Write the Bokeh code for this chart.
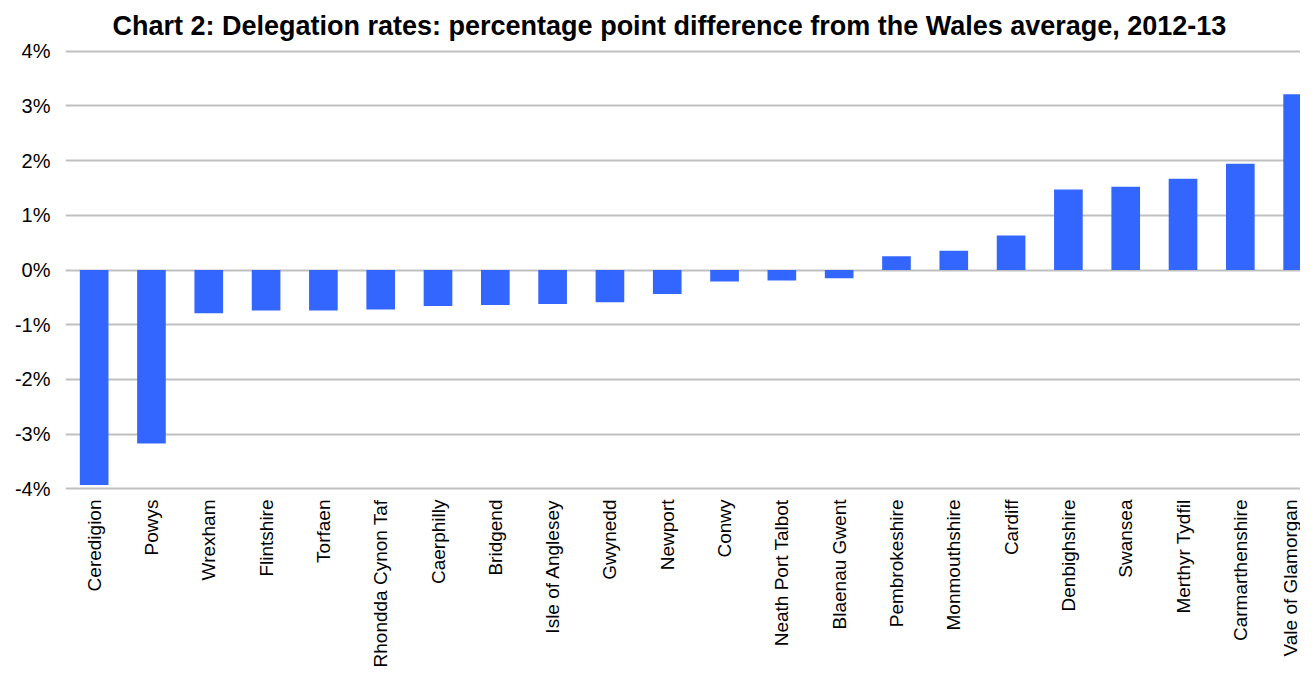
import math
from bokeh.plotting import figure
from bokeh.models import Range1d, FixedTicker, PrintfTickFormatter
from bokeh.embed import file_html
from bokeh.resources import INLINE

title_text = "Chart 2: Delegation rates: percentage point difference from the Wales average, 2012-13"

authorities = [
    "Ceredigion", "Powys", "Wrexham", "Flintshire", "Torfaen", "Rhondda Cynon Taf",
    "Caerphilly", "Bridgend", "Isle of Anglesey", "Gwynedd", "Newport", "Conwy",
    "Neath Port Talbot", "Blaenau Gwent", "Pembrokeshire", "Monmouthshire", "Cardiff",
    "Denbighshire", "Swansea", "Merthyr Tydfil", "Carmarthenshire", "Vale of Glamorgan",
]
difference_pp = [
    -3.93, -3.17, -0.79, -0.74, -0.74, -0.72,
    -0.66, -0.64, -0.62, -0.59, -0.44, -0.21,
    -0.19, -0.15, 0.25, 0.35, 0.63,
    1.47, 1.52, 1.67, 1.94, 3.21,
]
y_ticks = [-4, -3, -2, -1, 0, 1, 2, 3, 4]

FONT = "Liberation Sans"
BAR = "#3366FF"
GRID = "#C0C0C0"

positions = list(range(len(authorities)))

p = figure(
    width=1300, height=670,
    output_backend="svg", toolbar_location=None,
    x_range=Range1d(-0.5, 21.05), y_range=Range1d(-4.03, 4.03),
    min_border_left=65, min_border_right=0, min_border_top=0, min_border_bottom=0,
)

p.title.text = title_text
p.title.text_font = FONT
p.title.text_font_size = "27px"
p.title.text_font_style = "bold"
p.title.text_color = "#000000"
p.title.align = "left"
p.title.offset = 47
p.title.standoff = 17

p.vbar(x=positions, top=difference_pp, bottom=0, width=0.5,
       fill_color=BAR, line_color=None)

p.outline_line_color = None
p.xgrid.grid_line_color = None
p.ygrid.grid_line_color = GRID
p.ygrid.grid_line_width = 2
p.ygrid.level = "underlay"

p.yaxis.ticker = FixedTicker(ticks=y_ticks)
p.yaxis.formatter = PrintfTickFormatter(format="%d%%")
p.yaxis.axis_line_color = None
p.yaxis.major_tick_line_color = None
p.yaxis.minor_tick_line_color = None
p.yaxis.major_label_standoff = 9
p.yaxis.major_label_text_font = FONT
p.yaxis.major_label_text_font_size = "20px"
p.yaxis.major_label_text_color = "#000000"

p.xaxis.ticker = FixedTicker(ticks=positions)
p.xaxis.major_label_overrides = {i: name for i, name in enumerate(authorities)}
p.xaxis.major_label_orientation = math.pi / 2
p.xaxis.axis_line_color = None
p.xaxis.major_tick_line_color = None
p.xaxis.minor_tick_line_color = None
p.xaxis.major_label_standoff = 3
p.xaxis.major_label_text_font = FONT
p.xaxis.major_label_text_font_size = "19px"
p.xaxis.major_label_text_color = "#000000"

open("out.html", "w").write(file_html(p, INLINE))
